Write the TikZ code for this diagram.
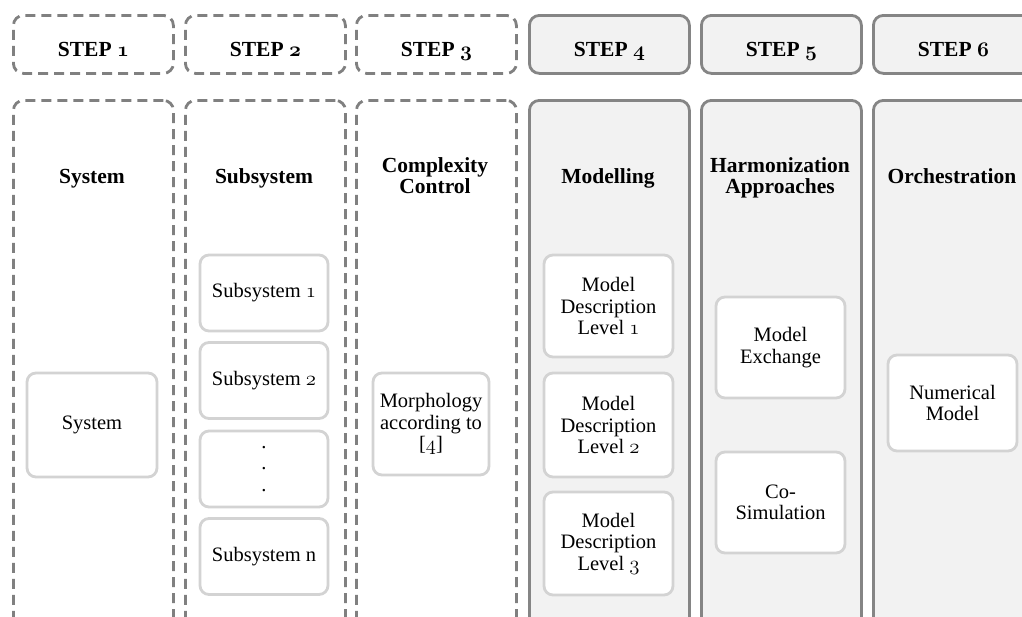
\documentclass[tikz,border=0pt]{standalone}
\usepackage{fontspec}
\setmainfont{Liberation Serif}
% old-style figures taken from the Computer Modern math italic fonts
\newcommand\osn[1]{{\usefont{OML}{lmm}{m}{it}#1}}
\newcommand\osb[1]{{\usefont{OML}{cmm}{b}{it}#1}}
\definecolor{dashgray}{HTML}{808080}
\definecolor{solidgray}{HTML}{858585}
\definecolor{panelgray}{HTML}{F2F2F2}
\definecolor{innergray}{HTML}{D3D3D3}
\tikzset{
  colbox/.style={line width=2.8pt, rounded corners=10pt, minimum width=160pt,
    anchor=north west, inner sep=0pt},
  dashbox/.style={colbox, draw=dashgray, dash pattern=on 10pt off 6pt},
  solidbox/.style={colbox, draw=solidgray, fill=panelgray},
  steplabel/.style={font=\fontsize{21.5}{21}\selectfont\bfseries,
    text height=26pt, text depth=2pt},
  heading/.style={font=\fontsize{21.5}{21}\selectfont\bfseries, align=center, anchor=base},
  itembox/.style={draw=innergray, fill=white, line width=2.8pt, rounded corners=9pt,
    align=center, inner sep=0pt, font=\fontsize{20.5}{21.5}\selectfont}
}
\begin{document}
\begin{tikzpicture}[x=1pt,y=-1pt]
\fill[white] (0,0) rectangle (1022,616);
\useasboundingbox (0,0) rectangle (1022,616);

% step headers
\node[dashbox, minimum height=58pt, steplabel] (s1) at (12,14) {STEP \osb{1}};
\node[dashbox, minimum height=58pt, steplabel] (s2) at (184,14) {STEP \osb{2}};
\node[dashbox, minimum height=58pt, steplabel] (s3) at (355,14) {STEP \osb{3}};
\node[solidbox, minimum height=58pt, steplabel] (s4) at (528,14) {STEP \osb{4}};
\node[solidbox, minimum height=58pt, steplabel] (s5) at (700,14) {STEP \osb{5}};
\node[solidbox, minimum height=58pt, steplabel] (s6) at (872,14) {STEP \osb{6}};

% column panels
\node[dashbox, minimum height=535pt] (p1) at (12,99) {};
\node[dashbox, minimum height=535pt] (p2) at (184,99) {};
\node[dashbox, minimum height=535pt] (p3) at (355,99) {};
\node[solidbox, minimum height=535pt] (p4) at (528,99) {};
\node[solidbox, minimum height=535pt] (p5) at (700,99) {};
\node[solidbox, minimum height=535pt] (p6) at (872,99) {};

% column headings (base = baseline of the last line)
\node[heading] (h1) at (92,183) {System};
\node[heading] (h2) at (264,183) {Subsystem};
\node[heading] (h3) at (435,193) {Complexity\\Control};
\node[heading] (h4) at (608,183) {Modelling};
\node[heading] (h5) at (780,193) {Harmonization\\Approaches};
\node[heading] (h6) at (952,183) {Orchestration};

% STEP 1
\node[itembox, minimum width=130pt, minimum height=104pt] (sys) at (92,425) {System};

% STEP 2
\node[itembox, minimum width=128pt, minimum height=76pt] (sub1) at (264,293) {Subsystem \osn{1}};
\node[itembox, minimum width=128pt, minimum height=76pt] (sub2) at (264,380.5) {Subsystem \osn{2}};
\node[itembox, minimum width=128pt, minimum height=76pt] (subd) at (264,469) {.\\.\\.};
\node[itembox, minimum width=128pt, minimum height=76pt] (subn) at (264,556.5) {Subsystem n};

% STEP 3
\node[itembox, minimum width=116pt, minimum height=102pt] (morph) at (431,424) {Morphology\\according to\\{[}\osn{4}{]}};

% STEP 4
\node[itembox, minimum width=129pt, minimum height=102pt] (mdl1) at (608.5,306) {Model\\Description\\Level \osn{1}};
\node[itembox, minimum width=129pt, minimum height=104pt] (mdl2) at (608.5,425) {Model\\Description\\Level \osn{2}};
\node[itembox, minimum width=129pt, minimum height=103pt] (mdl3) at (608.5,543.5) {Model\\Description\\Level \osn{3}};

% STEP 5
\node[itembox, minimum width=129pt, minimum height=101pt] (mex) at (780.5,347.5) {Model\\Exchange};
\node[itembox, minimum width=129pt, minimum height=101pt] (cosim) at (780.5,502.5) {Co-\\Simulation};

% STEP 6
\node[itembox, minimum width=129pt, minimum height=96pt] (num) at (952.5,403) {Numerical\\Model};
\end{tikzpicture}
\end{document}
